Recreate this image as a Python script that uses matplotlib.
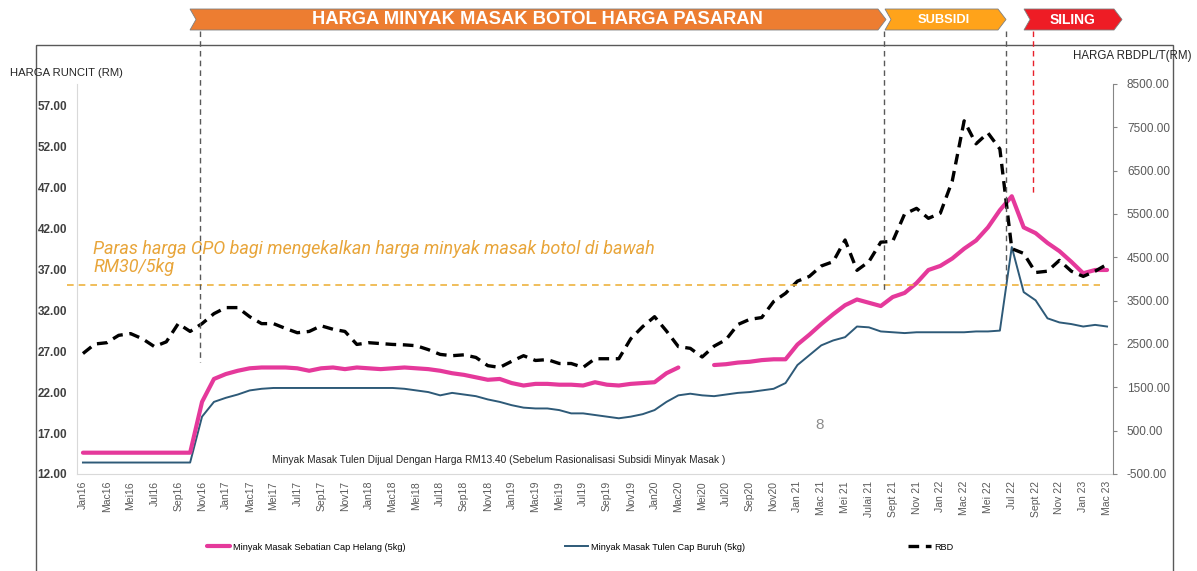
import numpy as np
import matplotlib.pyplot as plt
from matplotlib.patches import Polygon, Rectangle

plt.rcParams['font.family'] = ['Liberation Sans', 'DejaVu Sans']

# label every second month, Jan16 .. Mac 23
tick_labels = ['Jan16', 'Mac16', 'Mei16', 'Jul16', 'Sep16', 'Nov16',
               'Jan17', 'Mac17', 'Mei17', 'Jul17', 'Sep17', 'Nov17',
               'Jan18', 'Mac18', 'Mei18', 'Jul18', 'Sep18', 'Nov18',
               'Jan19', 'Mac19', 'Mei19', 'Jul19', 'Sep19', 'Nov19',
               'Jan20', 'Mac20', 'Mei20', 'Jul20', 'Sep20', 'Nov20',
               'Jan 21', 'Mac 21', 'Mei 21', 'Julai 21', 'Sept 21', 'Nov 21',
               'Jan 22', 'Mac 22', 'Mei 22', 'Jul 22', 'Sept 22', 'Nov 22',
               'Jan 23', 'Mac 23']

# Minyak Masak Sebatian Cap Helang (5kg), RM, monthly
helang = [14.6, 14.6, 14.6, 14.6, 14.6, 14.6, 14.6, 14.6, 14.6, 14.6, 20.8, 23.6,
          24.2, 24.6, 24.9, 25.0, 25.0, 25.0, 24.9, 24.6, 24.9, 25.0, 24.8, 25.0,
          24.9, 24.8, 24.9, 25.0, 24.9, 24.8, 24.6, 24.3, 24.1, 23.8, 23.5, 23.6,
          23.1, 22.8, 23.0, 23.0, 22.9, 22.9, 22.8, 23.2, 22.9, 22.8, 23.0, 23.1,
          23.2, 24.3, 25.0, np.nan, np.nan, 25.3, 25.4, 25.6, 25.7, 25.9, 26.0, 26.0,
          27.8, 29.0, 30.3, 31.5, 32.6, 33.3, 32.9, 32.5, 33.6, 34.1, 35.3, 36.9,
          37.4, 38.3, 39.5, 40.5, 42.1, 44.2, 45.9, 42.1, 41.4, 40.2, 39.2, 37.9,
          36.5, 36.9, 36.9]

# Minyak Masak Tulen Cap Buruh (5kg), RM
buruh = [13.4, 13.4, 13.4, 13.4, 13.4, 13.4, 13.4, 13.4, 13.4, 13.4, 19.0, 20.8,
         21.3, 21.7, 22.2, 22.4, 22.5, 22.5, 22.5, 22.5, 22.5, 22.5, 22.5, 22.5,
         22.5, 22.5, 22.5, 22.4, 22.2, 22.0, 21.6, 21.9, 21.7, 21.5, 21.1, 20.8,
         20.4, 20.1, 20.0, 20.0, 19.8, 19.4, 19.4, 19.2, 19.0, 18.8, 19.0, 19.3,
         19.8, 20.8, 21.6, 21.8, 21.6, 21.5, 21.7, 21.9, 22.0, 22.2, 22.4, 23.1,
         25.3, 26.5, 27.7, 28.3, 28.7, 30.0, 29.9, 29.4, 29.3, 29.2, 29.3, 29.3,
         29.3, 29.3, 29.3, 29.4, 29.4, 29.5, 39.7, 34.2, 33.2, 31.0, 30.5, 30.3,
         30.0, 30.2, 30.0]

# RBD palm olein, RM/tonne
rbd = [2280, 2500, 2530, 2700, 2740, 2620, 2440, 2550, 2970, 2790, 2970, 3200,
       3340, 3340, 3130, 2970, 2970, 2860, 2760, 2790, 2920, 2840, 2790, 2490,
       2530, 2510, 2490, 2480, 2460, 2370, 2260, 2230, 2250, 2190, 2000, 1960,
       2100, 2230, 2120, 2140, 2050, 2050, 1960, 2160, 2160, 2160, 2620, 2900,
       3130, 2800, 2440, 2400, 2200, 2450, 2600, 2950, 3070, 3110, 3480, 3670,
       3950, 4060, 4300, 4400, 4900, 4200, 4400, 4850, 4870, 5500, 5630, 5400,
       5520, 6260, 7650, 7120, 7370, 7000, 4700, 4590, 4150, 4180, 4430, 4180,
       4060, 4180, 4340]

cpo_level = 3860

W, H = 1197, 571
fig = plt.figure(figsize=(W / 100, H / 100), dpi=100)
ax = fig.add_axes([77 / W, 1 - 474 / H, (1113 - 77) / W, (474 - 84) / H])
x = np.arange(len(rbd))

l1, = ax.plot(x, helang, color='#E5399B', lw=3, solid_capstyle='round',
              label='Minyak Masak Sebatian Cap Helang (5kg)')
l2, = ax.plot(x, buruh, color='#2E5A78', lw=1.4,
              label='Minyak Masak Tulen Cap Buruh (5kg)')
l1.set_zorder(3)

ax.set_xlim(-0.5, len(rbd) - 0.5)
ax.set_ylim(12, 59.6)
ax.set_yticks(np.arange(12, 58, 5))
ax.set_yticklabels(['%.2f' % v for v in np.arange(12, 58, 5)], fontweight='bold')
ax.set_xticks(np.arange(0, len(rbd), 2))
ax.set_xticklabels(tick_labels, rotation=90)
ax.tick_params(axis='y', length=0, pad=7, labelsize=8.5, labelcolor='#404040')
ax.tick_params(axis='x', length=0, pad=5, labelsize=7.5, labelcolor='#595959')
for s in ['top', 'right']:
    ax.spines[s].set_visible(False)
for s in ['left', 'bottom']:
    ax.spines[s].set_color('#D9D9D9')

ax2 = ax.twinx()
l3, = ax2.plot(x, rbd, color='black', lw=2.4, dashes=(3.2, 2), label='RBD')
ax2.hlines(cpo_level, -1.3, 85.4, colors='#EDB33F', linestyles=(0, (4, 3)),
           lw=1.2, clip_on=False)
ax2.set_ylim(-500, 8500)
ax2.set_yticks(np.arange(-500, 8501, 1000))
ax2.set_yticklabels(['%.2f' % v for v in np.arange(-500, 8501, 1000)])
ax2.tick_params(axis='y', length=3, pad=7, labelsize=8.5, color='#868686',
                labelcolor='#595959')
for s in ['top', 'left', 'bottom']:
    ax2.spines[s].set_visible(False)
ax2.spines['right'].set_color('#868686')

# legend entries, spread out along the bottom
for h, xl in [(l1, 199), (l2, 557), (l3, 900)]:
    fig.legend([h], [h.get_label()], loc='center left',
               bbox_to_anchor=(xl / W, 1 - 547 / H), frameon=False,
               fontsize=6.6, handlelength=2.5, handletextpad=0.3)

# overlay in pixel coords for banner, frame and notes
ov = fig.add_axes([0, 0, 1, 1], zorder=5)
ov.set_xlim(0, W)
ov.set_ylim(H, 0)
ov.axis('off')
ov.patch.set_visible(False)

ov.add_patch(Rectangle((36, 45), 1137, 600, fill=False, ec='#595959', lw=1))

def chevron(x0, x1, col):
    pts = [(x0, 9), (x1 - 8, 9), (x1, 19.5), (x1 - 8, 30), (x0, 30), (x0 + 6, 19.5)]
    ov.add_patch(Polygon(pts, closed=True, fc=col, ec='#7F7F7F', lw=0.6))

chevron(190, 886, '#ED7D31')
chevron(885, 1006, '#FFA31A')
chevron(1024, 1122, '#EE1C25')
ov.text(537, 20, 'HARGA MINYAK MASAK BOTOL HARGA PASARAN', color='white',
        fontsize=13.2, fontweight='bold', ha='center', va='center')
ov.text(944, 20, 'SUBSIDI', color='white', fontsize=9.3, fontweight='bold',
        ha='center', va='center')
ov.text(1073, 20, 'SILING', color='white', fontsize=10, fontweight='bold',
        ha='center', va='center')

for xv, y1, c in [(200, 362, '#595959'), (884, 290, '#595959'),
                  (1006, 285, '#595959'), (1033, 195, '#E8202A')]:
    ov.plot([xv, xv], [31, y1], color=c, lw=1, dashes=(4, 3))

ov.text(10, 73, 'HARGA RUNCIT (RM)', fontsize=8.1, va='center', color='#262626')
ov.text(1073, 56, 'HARGA RBDPL/T(RM)', fontsize=8.3, va='center', color='#262626')

ov.text(93, 258, 'Paras harga CPO bagi mengekalkan harga minyak masak botol di bawah\nRM30/5kg',
        family=['Roboto', 'DejaVu Sans'], style='italic', fontsize=13,
        color='#E8A53A', va='center', linespacing=1.05)
ov.text(272, 460, 'Minyak Masak Tulen Dijual Dengan Harga RM13.40 (Sebelum Rasionalisasi Subsidi Minyak Masak )',
        fontsize=7.3, va='center', color='#262626')
ov.text(820, 425, '8', fontsize=11, va='center', ha='center', color='#8C8C8C')

fig.savefig('out.png', dpi=100)
